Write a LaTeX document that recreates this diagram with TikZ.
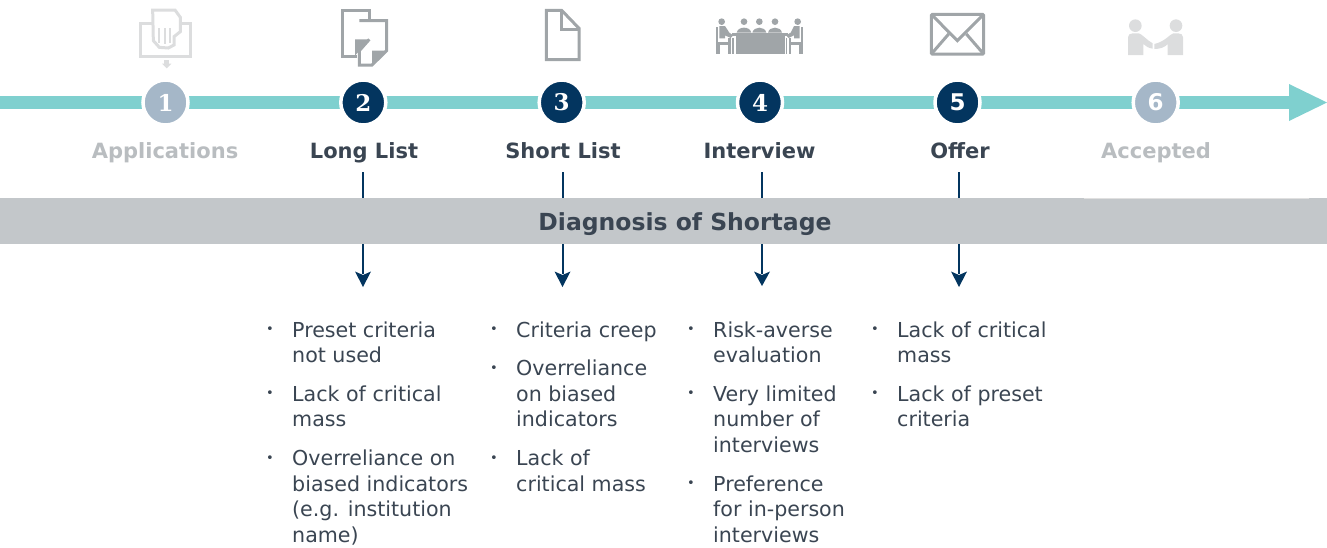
\documentclass[tikz,border=0pt]{standalone}
\usepackage{fontspec}
\setmainfont{DejaVu Sans}
\newfontfamily\slabfont{DejaVu Serif}
\definecolor{teal}{HTML}{7FD0CF}
\definecolor{navy}{HTML}{03355F}
\definecolor{pale}{HTML}{A5B7C8}
\definecolor{bandc}{HTML}{C3C7CA}
\definecolor{ink}{HTML}{3A4552}
\definecolor{dimtext}{HTML}{B9BDC0}
\definecolor{iconc}{HTML}{A0A5A8}
\definecolor{iconl}{HTML}{DCDDDE}
\tikzset{
 stepdot/.style={circle,draw=white,line width=3.5pt,minimum size=45pt,inner sep=0pt,text=white,font=\fontsize{23}{23}\selectfont\bfseries},
 steplabel/.style={anchor=base,inner sep=0pt,font=\fontsize{21}{25}\selectfont\bfseries},
 itemtext/.style={anchor=north west,inner sep=0pt,align=left,text=ink,font=\fontsize{20.6}{25.5}\selectfont},
 bulletmark/.style={anchor=center,inner sep=0pt,text=ink,font=\fontsize{13}{13}\selectfont},
 flow/.style={draw=navy,line width=2pt},
 iconpart/.style={line width=3pt,miter limit=4},
 zoomed/.style={x=0.33333pt,y=-0.33333pt},
}
\newcommand{\listitem}[4]{%
 \node[bulletmark] (#1b) at (#2-22,#3-6.5) {•};
 \node[itemtext] (#1) at (#2,#3-17.85) {\strut #4};
}
\begin{document}
\begin{tikzpicture}[x=1pt,y=-1pt]
\useasboundingbox (0,0) rectangle (1327,547);
% timeline
\fill[teal] (0,96) rectangle (1290,108.7);
\fill[teal] (1289,84) -- (1327,102.5) -- (1289,121) -- cycle;
\node[stepdot,fill=pale] (s1) at (165.5,102.5) {\slabfont 1};
\node[stepdot,fill=navy] (s2) at (363.3,102.5) {\slabfont 2};
\node[stepdot,fill=navy] (s3) at (561.7,102.5) {\slabfont 3};
\node[stepdot,fill=navy] (s4) at (760,102.5) {\slabfont 4};
\node[stepdot,fill=navy] (s5) at (957.5,102.5) {5};
\node[stepdot,fill=pale] (s6) at (1155.7,102.5) {6};
% labels
\node[steplabel,text=dimtext] (l1) at (165,158) {Applications};
\node[steplabel,text=ink] (l2) at (364,158) {Long List};
\node[steplabel,text=ink] (l3) at (563,158) {Short List};
\node[steplabel,text=ink] (l4) at (759.5,158) {Interview};
\node[steplabel,text=ink] (l5) at (960,158) {Offer};
\node[steplabel,text=dimtext] (l6) at (1156,158) {Accepted};
% band
\fill[bandc] (0,198) rectangle (1327,244);
\draw[color=white!88!black,line width=1pt] (1084,198.5) -- (1309,198.5);
\node[anchor=base,inner sep=0pt,text=ink,font=\fontsize{23.5}{28}\selectfont\bfseries] (band) at (685,230) {Diagnosis of Shortage};
% connectors
\foreach \n/\x/\tip in {2/363/287,3/562.5/287,4/762/286,5/959/287}{
 \coordinate (a\n) at (\x,172);
 \coordinate (b\n) at (\x,198);
 \coordinate (c\n) at (\x,244);
 \coordinate (d\n) at (\x,\tip);
 \draw[flow] (a\n) -- (b\n);
 \fill[navy] (\x-1,244) rectangle (\x+1,274);
 \fill[navy] (\x-8,271.5) -- (\x,\tip) -- (\x+8,271.5) -- (\x,275) -- cycle;
}
% lists
\listitem{p1}{292}{337}{Preset criteria\\not used}
\listitem{p2}{292}{401}{Lack of critical\\mass}
\listitem{p3}{292}{465.5}{Overreliance on\\biased indicators\\(e.g. institution\\name)}
\listitem{q1}{516}{337}{Criteria creep}
\listitem{q2}{516}{375.5}{Overreliance\\on biased\\indicators}
\listitem{q3}{516}{465.5}{Lack of\\critical mass}
\listitem{r1}{713}{337}{Risk-averse\\evaluation}
\listitem{r2}{713}{401}{Very limited\\number of\\interviews}
\listitem{r3}{713}{491}{Preference\\for in-person\\interviews}
\listitem{t1}{897}{337}{Lack of critical\\mass}
\listitem{t2}{897}{401}{Lack of preset\\criteria}
% icon 1
\begin{scope}[shift={(100,0)},zoomed]
 \draw[iconl,iconpart] (122,70) rectangle (272,168);
 \draw[iconl,iconpart,fill=white] (158,30) -- (225,30) -- (241,52) -- (241,95) -- (222,110) -- (222,135) -- (205,144) -- (178,142) -- (160,122) -- cycle;
 \draw[iconl,line width=2pt] (178,85) -- (178,128) (194,85) -- (194,132) (209,85) -- (209,130);
 \fill[iconl] (193,181) rectangle (207,192);
 \fill[iconl] (186,191) -- (214,191) -- (200,205) -- cycle;
\end{scope}
% icon 2
\begin{scope}[shift={(100,0)},zoomed]
 \draw[iconc,iconpart] (772,170) -- (728,170) -- (728,32) -- (808,32) -- (808,60);
 \fill[iconc] (765,167) -- (765,118) -- (808,118) -- cycle;
 \draw[iconc,iconpart] (778,62) -- (860,62) -- (860,152) -- (816,195) -- (778,195) -- (778,152) -- (808,118);
 \fill[iconc] (816,196) -- (816,152) -- (862,152) -- cycle;
\end{scope}
% icon 3
\begin{scope}[shift={(500,0)},zoomed]
 \draw[iconc,iconpart,line join=miter] (139,31) -- (185,31) -- (237,85) -- (237,179) -- (139,179) -- cycle;
 \draw[iconc,iconpart] (185,31) -- (185,88) -- (237,88);
\end{scope}
% icon 4
\begin{scope}[shift={(500,0)},zoomed]
 \fill[iconc] (665,65) circle (10) (732,65) circle (10) (778,65) circle (10) (825,65) circle (10) (893,65) circle (10);
 \fill[iconc] (710,98) .. controls (714,78) and (750,78) .. (754,98) -- cycle;
 \fill[iconc] (757,98) .. controls (761,78) and (795,78) .. (799,98) -- cycle;
 \fill[iconc] (804,98) .. controls (808,78) and (842,78) .. (846,98) -- cycle;
 \fill[iconc] (697,100) rectangle (865,108);
 \fill[iconc] (708,108) rectangle (855,163);
 \fill[iconc] (648,82) rectangle (654,163);
 \fill[iconc] (658,78) -- (675,78) -- (688,98) -- (700,106) -- (692,114) -- (675,106) -- (675,115) -- (658,115) -- cycle;
 \fill[iconc] (654,127) rectangle (690,135);
 \fill[iconc] (685,115) rectangle (692,163);
 \fill[iconc] (695,115) rectangle (701,163);
 \fill[iconc] (655,135) rectangle (660,163);
 \fill[iconc] (903,82) rectangle (909,163);
 \fill[iconc] (899,78) -- (882,78) -- (872,98) -- (858,106) -- (866,114) -- (882,106) -- (882,115) -- (899,115) -- cycle;
 \fill[iconc] (868,127) rectangle (903,135);
 \fill[iconc] (866,115) rectangle (873,163);
 \fill[iconc] (857,115) rectangle (862,163);
 \fill[iconc] (897,135) rectangle (902,163);
\end{scope}
% icon 5
\begin{scope}[shift={(900,0)},zoomed]
 \draw[iconc,iconpart,rounded corners=1pt] (94,43) rectangle (251,162);
 \draw[iconc,iconpart] (94,43) -- (172,122) -- (251,43);
 \draw[iconc,iconpart] (94,162) -- (146,102) (251,162) -- (199,102);
\end{scope}
% icon 6
\begin{scope}[shift={(900,0)},zoomed]
 \fill[iconl] (706,77) circle (19) (828,77) circle (19);
 \fill[iconl] (684,165) -- (684,112) .. controls (684,104) and (690,100) .. (698,100) -- (716,100) .. controls (726,102) and (740,120) .. (758,130) -- (758,146) .. controls (746,144) and (738,140) .. (730,132) -- (730,165) -- cycle;
 \fill[iconl] (849,165) -- (849,112) .. controls (849,104) and (843,100) .. (835,100) -- (820,100) .. controls (810,102) and (795,125) .. (763,132) -- (763,147) .. controls (780,147) and (795,142) .. (803,132) -- (803,165) -- cycle;
\end{scope}
\end{tikzpicture}
\end{document}
